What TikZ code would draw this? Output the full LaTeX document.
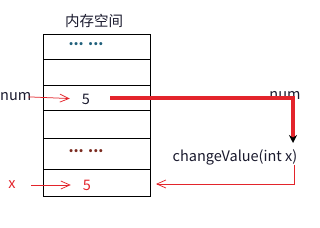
\documentclass[tikz,border=0pt]{standalone}
\usepackage{fontspec}
\setmainfont{Noto Sans CJK SC}
\usetikzlibrary{positioning,arrows.meta}
\definecolor{ink}{HTML}{1A1A2E}
\definecolor{linered}{HTML}{E3242B}
\definecolor{dotsA}{HTML}{1F5F7A}
\definecolor{dotsB}{HTML}{7A2A1F}
\tikzset{
    cell/.style={draw, line width=0.9pt, minimum width=107pt, outer sep=0pt, inner sep=0pt},
    lbl/.style={font=\fontsize{14.5}{16}\selectfont, text=ink, inner sep=1pt},
    thinarrow/.style={linered, line width=0.75pt, -{Straight Barb[length=9pt,width=8pt]}},
}
\begin{document}
\begin{tikzpicture}[x=1pt, y=-1pt]
    % Page
    \useasboundingbox (0,0) rectangle (320,227);

    % Memory cells
    \node[cell, minimum height=25pt] (c1) at (96.5,46.5) {};
    \node[cell, minimum height=26pt, below=0pt of c1] (c2) {};
    \node[cell, minimum height=25pt, below=0pt of c2] (c3) {};
    \node[cell, minimum height=28pt, below=0pt of c3] (c4) {};
    \node[cell, minimum height=31pt, below=0pt of c4] (c5) {};
    \node[cell, minimum height=27pt, below=0pt of c5] (c6) {};

    % Texts
    \node[lbl] (title) at (94,21) {内存空间};
    \node[lbl, text=dotsA] (dotsA) at (86,44) {\textbf{... ...}};
    \node[lbl, text=dotsB] (dotsB) at (86,151) {\textbf{... ...}};
    \node[lbl, anchor=west, inner sep=0pt] (num) at (0,97) {num};
    \node[lbl] (valnum) at (86,99) {5};
    \node[lbl, text=linered] (x) at (12,185) {x};
    \node[lbl, text=linered] (valx) at (87,185) {5};
    \node[lbl] (numcopy) at (285,96) {num};
    \node[lbl] (func) at (235,157) {changeValue(int x)};

    % Pointers
    \draw[thinarrow, shorten <=-3pt, shorten >=11pt] (num.east) -- (valnum.west);
    \draw[thinarrow, shorten <=14pt, shorten >=11pt] (x.east) -- (valx.west);

    % Passing the value
    \coordinate (pass) at (110,98);
    \coordinate (bend) at (293,98);
    \coordinate (tip) at (293,143);
    \draw[linered, line width=3.5pt, -{Stealth[color=black, length=8pt, width=8pt]}] (pass) -- (bend) -- (tip);

    % Back to x
    \coordinate (down) at (294,165);
    \coordinate (corner) at (294,184);
    \draw[thinarrow, shorten >=6pt] (down) -- (corner) -- (c6.east |- corner);
\end{tikzpicture}
\end{document}
